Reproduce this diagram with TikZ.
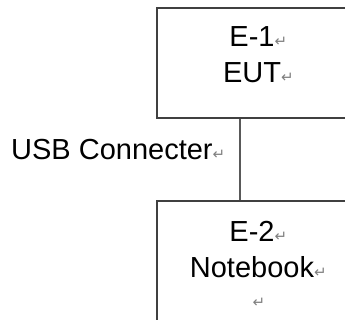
\documentclass[tikz,border=0pt]{standalone}
\usepackage{fontspec}
\setmainfont{Liberation Sans}
\newfontfamily\markfont{DejaVu Sans}
\usepackage{xcolor}

\newcommand{\pmark}{\rlap{\markfont\fontsize{15}{15}\selectfont\textcolor{gray}{↵}}}

\begin{document}
\begin{tikzpicture}[x=1pt,y=-1pt]
          \tikzset{unit/.style={draw=black!75,line width=2pt,minimum width=190pt,inner sep=0pt},
                   txt/.style={anchor=base,inner sep=0pt,font=\fontsize{29}{29}\selectfont}}
          \clip (0,0) rectangle (345,320);

          \node[unit,minimum height=110pt] (eut) at (252,63) {};
          \node[unit,minimum height=130pt] (nb) at (252,266) {};

          \draw[black!65,line width=1.5pt] ([xshift=-12pt]eut.south)--([xshift=-12pt]nb.north);

          \node[txt] (e1) at (252,47) {E-1\pmark};
          \node[txt] (e1b) at (252,83) {EUT\pmark};
          \node[txt] (e2) at (252,242) {E-2\pmark};
          \node[txt] (e2b) at (252,277) {Notebook\pmark};
          \node[txt,anchor=base west] (e2c) at (252,307) {\pmark};
          \node[txt,anchor=base west] (usb) at (11,160) {USB Connecter\pmark};
        \end{tikzpicture}
\end{document}
